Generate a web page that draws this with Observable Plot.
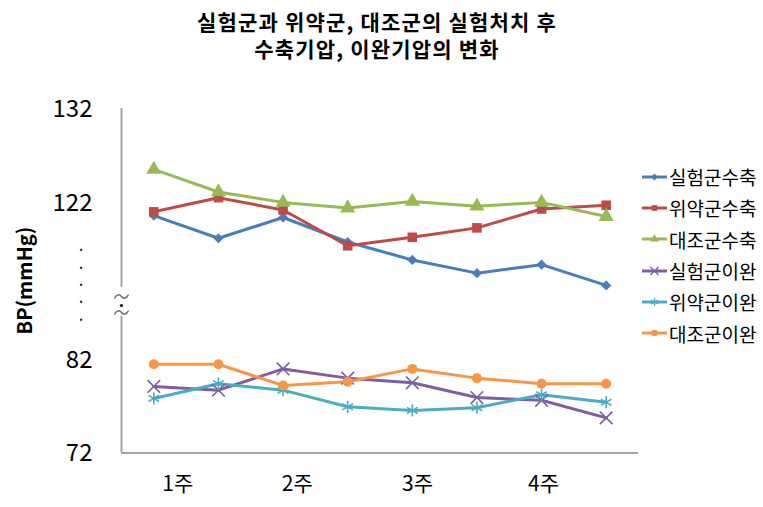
<!DOCTYPE html>
<html><head><meta charset="utf-8">
<script src="https://cdn.jsdelivr.net/npm/d3@7"></script>
<script src="https://cdn.jsdelivr.net/npm/@observablehq/plot@0.6"></script>
<style>
body{margin:0;background:#fff;font-family:"Noto Sans CJK KR",sans-serif;}
#wrap{position:relative;width:763px;height:507px;overflow:hidden}
#title{position:absolute;left:0;top:8px;width:754px;text-align:center;font-weight:bold;font-size:21px;line-height:27px;letter-spacing:1.2px;color:#000}
#legend{position:absolute;left:641px;top:161px}
.item{display:flex;align-items:center;height:31.3px;font-size:19px;color:#000;white-space:nowrap}
.item svg{margin-right:1px}
</style></head><body>
<div id="wrap"><div id="chart"></div><div id="title">실험군과 위약군, 대조군의 실험처치 후<br>수축기압, 이완기압의 변화</div><div id="legend"></div></div>
<script>
const seriesNames = ["실험군수축","위약군수축","대조군수축","실험군이완","위약군이완","대조군이완"];
const seriesColors = ["#4A7EBB","#BE4B48","#98B954","#7D60A0","#4BACC6","#F79646"];
const seriesSymbols = ["diamond2","square","triangle","times","asterisk","circle"];
const timeIndex = [0,1,2,3,4,5,6,7];
const expSys = [120.7,118.3,120.5,117.9,116.0,114.6,115.5,113.3];
const plaSys = [121.1,122.6,121.3,117.5,118.4,119.4,121.4,121.8];
const ctlSys = [125.6,123.2,122.1,121.5,122.2,121.7,122.1,120.6];
const expDia = [79.2,78.8,81.1,80.1,79.6,78.0,77.7,75.8];
const plaDia = [77.9,79.5,78.8,77.0,76.6,76.9,78.3,77.5];
const ctlDia = [81.6,81.6,79.3,79.7,81.1,80.1,79.5,79.5];
const weekLabels = ["1주","2주","3주","4주"];
const weekTickPos = [0.37,2.22,4.08,6.03];
const yTicks = [72,82,122,132];
const yBreak = [88.5,111.7];
const axisGap = [86.8,113.1];

const seriesValues = [expSys,plaSys,ctlSys,expDia,plaDia,ctlDia];
const rowsBySeries = seriesValues.map((vals,i)=>timeIndex.map((t,j)=>({name:seriesNames[i],t,v:vals[j]})));
const strokeSym = new Set(["times","asterisk"]);
const symR = {diamond2:4.6,square:5.4,triangle:5.6,times:5.8,asterisk:5.8,circle:5};
const yMid = (yBreak[0]+yBreak[1])/2;

// squiggle symbol for the axis break
const tilde = {draw(ctx){
  ctx.moveTo(-7,2);
  ctx.bezierCurveTo(-5,-2.5,-2,-2.5,0,0);
  ctx.bezierCurveTo(2,2.5,5,2.5,7,-2);
}};

const marks = [
  Plot.ruleY([72],{stroke:"#a6a6a6",strokeWidth:2}),
  Plot.ruleX([-0.5],{stroke:"#a6a6a6",strokeWidth:2}),
  Plot.ruleX([-0.5],{y1:axisGap[0],y2:axisGap[1],stroke:"white",strokeWidth:4}),
  Plot.dot([yMid],{x:-0.5,y:d=>d,dy:-4,symbol:tilde,fill:"none",stroke:"#666",strokeWidth:1.4}),
  Plot.dot([yMid],{x:-0.5,y:d=>d,dy:12,symbol:tilde,fill:"none",stroke:"#666",strokeWidth:1.4}),
  Plot.dot([yMid],{x:-0.5,y:d=>d,dy:5,r:1.6,fill:"#000",stroke:"none"}),
  Plot.text(["·\n·\n·\n·\n·"],{frameAnchor:"left",y:[yMid],dx:-44,dy:-17,fontSize:12,fontWeight:"bold",lineHeight:1.44,fill:"#000"}),
  Plot.axisY({ticks:yTicks,tickSize:0,tickPadding:29,fontSize:24,label:null,fill:"#000"}),
  Plot.axisX({ticks:weekTickPos,tickFormat:(d,i)=>weekLabels[i],tickSize:0,tickPadding:24,fontSize:21,label:null,fill:"#000"}),
  Plot.text(["BP(mmHg)"],{frameAnchor:"left",textAnchor:"middle",dx:-96,rotate:-90,fontSize:20,fontWeight:"bold",fill:"#000"})
];
rowsBySeries.forEach((rows,i)=>{
  marks.push(Plot.line(rows,{x:"t",y:"v",stroke:seriesColors[i],strokeWidth:3}));
});
rowsBySeries.forEach((rows,i)=>{
  const s = seriesSymbols[i];
  marks.push(Plot.dot(rows,{x:"t",y:"v",symbol:s,r:symR[s],
    fill: strokeSym.has(s)?"none":seriesColors[i],
    stroke: strokeSym.has(s)?seriesColors[i]:"none",
    strokeWidth:1.6}));
});

const chart = Plot.plot({
  width:763,height:507,
  marginLeft:121,marginRight:125,marginTop:108,marginBottom:55,
  style:{fontFamily:"'Noto Sans CJK KR', sans-serif",background:"white",overflow:"visible"},
  x:{type:"linear",domain:[-0.5,7.5]},
  y:{type:"linear",domain:[72,yBreak[0],yBreak[1],132],range:[452.5,300,300,108.5]},
  marks
});
document.getElementById("chart").appendChild(chart);

// legend
const symTypes = {diamond2:d3.symbolDiamond2,square:d3.symbolSquare,triangle:d3.symbolTriangle,times:d3.symbolTimes,asterisk:d3.symbolAsterisk,circle:d3.symbolCircle};
const leg = d3.select("#legend");
seriesNames.forEach((n,i)=>{
  const it = leg.append("div").attr("class","item");
  const sv = it.append("svg").attr("width",27).attr("height",14);
  sv.append("line").attr("x1",1).attr("x2",26).attr("y1",7).attr("y2",7).attr("stroke",seriesColors[i]).attr("stroke-width",3);
  const s = seriesSymbols[i];
  sv.append("path").attr("transform","translate(13.5,7)")
    .attr("d",d3.symbol(symTypes[s],strokeSym.has(s)?45:32)())
    .attr("fill",strokeSym.has(s)?"none":seriesColors[i])
    .attr("stroke",strokeSym.has(s)?seriesColors[i]:"none").attr("stroke-width",1.3);
  it.append("span").text(n);
});
</script>
</body></html>
